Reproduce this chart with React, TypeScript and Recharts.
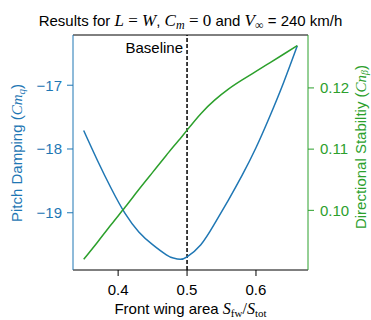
import { ComposedChart, Line, XAxis, YAxis, ReferenceLine, Label, Customized } from 'recharts';

// Front wing area ratio S_fw / S_tot
const areaRatio = [0.35, 0.37, 0.39, 0.41, 0.43, 0.45, 0.47, 0.48, 0.49, 0.5, 0.52, 0.54, 0.56, 0.58, 0.6, 0.62, 0.64, 0.66];
// Pitch damping Cm_q
const pitchDamping = [-17.71, -18.18, -18.62, -19.01, -19.3, -19.5, -19.66, -19.71, -19.73, -19.69, -19.5, -19.17, -18.8, -18.41, -17.98, -17.49, -16.96, -16.38];
// Directional stability Cn_beta
const dirStability = [0.092, 0.0948, 0.0977, 0.1005, 0.1034, 0.1062, 0.109, 0.1104, 0.1117, 0.1131, 0.1158, 0.118, 0.1198, 0.1213, 0.1227, 0.1241, 0.1255, 0.1269];

const xTicks = [0.4, 0.5, 0.6];
const pitchTicks = [-19, -18, -17];
const stabTicks = [0.1, 0.11, 0.12];
const baselineRatio = 0.5;

const BLUE = '#1f77b4';
const GREEN = '#2ca02c';
const SANS = '"Liberation Sans", Arial, sans-serif';
const SERIF = '"Liberation Serif", "DejaVu Serif", serif';

const data = areaRatio.map((x, i) => ({ x, cmq: pitchDamping[i], cnb: dirStability[i] }));

// matplotlib-style 5% padding around the data
const padded = (vals: number[]): [number, number] => {
  const lo = Math.min(...vals);
  const hi = Math.max(...vals);
  const p = (hi - lo) * 0.05;
  return [lo - p, hi + p];
};

const xDomain = padded(areaRatio);
const cmqDomain = padded(pitchDamping);
const cnbDomain = padded(dirStability);

const fmtMinus = (v: number) => String(v).replace('-', '\u2212');

const Title = (props: any) => {
  const cx = (props.offset?.left ?? 73) + (props.offset?.width ?? 235) / 2;
  return (
    <text x={cx} y={26} textAnchor="middle" fontFamily={SANS} fontSize={15} fill="#000">
      Results for{' '}
      <tspan fontFamily={SERIF} fontSize={17} fontStyle="italic">L</tspan>
      <tspan fontFamily={SERIF} fontSize={17}> = </tspan>
      <tspan fontFamily={SERIF} fontSize={17} fontStyle="italic">W</tspan>
      <tspan>, </tspan>
      <tspan fontFamily={SERIF} fontSize={17} fontStyle="italic">C</tspan>
      <tspan fontFamily={SERIF} fontStyle="italic" fontSize={12} dy={3}>m</tspan>
      <tspan fontFamily={SERIF} fontSize={17} dy={-3}> = 0</tspan>
      <tspan> and </tspan>
      <tspan fontFamily={SERIF} fontSize={17} fontStyle="italic">V</tspan>
      <tspan fontFamily={SERIF} fontSize={12} dy={3}>∞</tspan>
      <tspan dy={-3}>  = 240 km/h</tspan>
    </text>
  );
};

export default function App() {
  return (
    <div style={{ position: 'absolute', left: 0, top: 0, background: '#fff' }}>
      <ComposedChart width={371} height={320} data={data} margin={{ top: 35, right: 0, bottom: 0, left: 0 }}>
        <XAxis
          dataKey="x"
          type="number"
          domain={xDomain}
          ticks={xTicks}
          allowDataOverflow
          height={50}
          tickSize={6}
          tickMargin={8}
          stroke="#000"
          tick={{ fill: '#000', fontSize: 15, fontFamily: SANS }}
          tickLine={{ stroke: '#000' }}
          tickFormatter={(v: number) => v.toFixed(1)}
        >
          <Label
            content={({ viewBox }: any) => (
              <text x={viewBox.x + viewBox.width / 2} y={314} textAnchor="middle" fontFamily={SANS} fontSize={15} fill="#000">
                Front wing area{' '}
                <tspan fontFamily={SERIF} fontSize={16} fontStyle="italic">S</tspan>
                <tspan fontFamily={SERIF} fontSize={11} dy={3}>fw</tspan>
                <tspan fontFamily={SERIF} fontSize={16} dy={-3}>/</tspan>
                <tspan fontFamily={SERIF} fontSize={16} fontStyle="italic">S</tspan>
                <tspan fontFamily={SERIF} fontSize={11} dy={3}>tot</tspan>
              </text>
            )}
          />
        </XAxis>
        <YAxis
          yAxisId="left"
          orientation="left"
          type="number"
          domain={cmqDomain}
          ticks={pitchTicks}
          allowDataOverflow
          width={73}
          tickSize={6}
          tickMargin={5}
          stroke={BLUE}
          tick={{ fill: BLUE, fontSize: 15, fontFamily: SANS }}
          tickLine={{ stroke: BLUE }}
          tickFormatter={fmtMinus}
        >
          <Label
            content={() => (
              <text x={21.5} y={153} transform="rotate(-90 21.5 153)" textAnchor="middle" fontFamily={SANS} fontSize={15} fill={BLUE}>
                Pitch Damping (
                <tspan fontFamily={SERIF} fontStyle="italic">Cm</tspan>
                <tspan fontFamily={SERIF} fontStyle="italic" fontSize={11} dy={3}>q</tspan>
                <tspan dy={-3}>)</tspan>
              </text>
            )}
          />
        </YAxis>
        <YAxis
          yAxisId="right"
          orientation="right"
          type="number"
          domain={cnbDomain}
          ticks={stabTicks}
          allowDataOverflow
          width={63}
          tickSize={6}
          tickMargin={6}
          stroke={GREEN}
          tick={{ fill: GREEN, fontSize: 15, fontFamily: SANS }}
          tickLine={{ stroke: GREEN }}
          tickFormatter={(v: number) => v.toFixed(2)}
        >
          <Label
            content={() => (
              <text x={366} y={147} transform="rotate(-90 366 147)" textAnchor="middle" fontFamily={SANS} fontSize={15} fill={GREEN}>
                Directional Stabiltiy (
                <tspan fontFamily={SERIF} fontStyle="italic">Cn</tspan>
                <tspan fontFamily={SERIF} fontStyle="italic" fontSize={10} dy={2}>β</tspan>
                <tspan dy={-2}>)</tspan>
              </text>
            )}
          />
        </YAxis>
        {/* top spine */}
        <ReferenceLine yAxisId="left" y={cmqDomain[1]} stroke="#000" strokeWidth={1} ifOverflow="extendDomain" />
        <ReferenceLine
          yAxisId="left"
          x={baselineRatio}
          stroke="#000"
          strokeWidth={1.5}
          strokeDasharray="4 2"
        >
          <Label
            content={({ viewBox }: any) => (
              <text x={viewBox.x - 4} y={viewBox.y + 18} textAnchor="end" fontFamily={SANS} fontSize={15} fill="#000">
                Baseline
              </text>
            )}
          />
        </ReferenceLine>
        <Line yAxisId="left" type="natural" dataKey="cmq" stroke={BLUE} strokeWidth={1.5} dot={false} isAnimationActive={false} />
        <Line yAxisId="right" type="natural" dataKey="cnb" stroke={GREEN} strokeWidth={1.5} dot={false} isAnimationActive={false} />
        <Customized component={Title} />
      </ComposedChart>
    </div>
  );
}
